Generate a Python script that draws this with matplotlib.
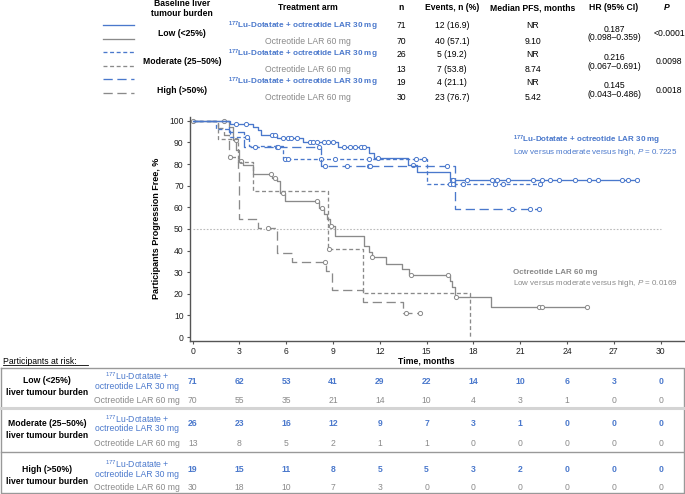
import matplotlib
matplotlib.use('Agg')
import matplotlib.pyplot as plt
import numpy as np
from matplotlib.transforms import blended_transform_factory
from matplotlib.lines import Line2D

plt.rcParams['font.family'] = ['Liberation Sans', 'DejaVu Sans']
plt.rcParams['mathtext.fontset'] = 'custom'
plt.rcParams['mathtext.rm'] = 'Liberation Sans'
plt.rcParams['mathtext.it'] = 'Liberation Sans:italic'
plt.rcParams['mathtext.bf'] = 'Liberation Sans:bold'

# ---------------- data ----------------
BLUE = '#4a78cc'
GREY = '#8a8a8a'

# Kaplan-Meier step data (time in months, % progression free)
low_lu_t = [0, 2.4, 3.9, 4.2, 4.4, 5.4, 7.1, 9.3, 11.3, 11.6, 13.8, 14.4, 16.5]
low_lu_s = [100, 98.6, 97.2, 95.8, 93.4, 92.1, 90.2, 87.9, 85.0, 82.9, 79.7, 76.3, 72.6]
low_lu_end = 28.5
low_lu_cens = [2.8, 3.4, 5.1, 5.3, 5.8, 6.1, 6.3, 6.7, 7.5, 7.7, 8.0, 8.4, 8.7, 9.0,
               9.7, 10.1, 10.4, 10.8, 11.0, 11.9, 14.1, 16.6, 16.7, 17.6, 19.2, 19.5,
               20.2, 21.8, 22.4, 22.9, 23.5, 24.5, 25.4, 26.0, 27.5, 27.9, 28.5]

mod_lu_t = [0, 1.5, 2.4, 3.6, 5.8, 15.0]
mod_lu_s = [100, 96.2, 92.3, 88.3, 82.4, 70.6]
mod_lu_end = 22.3
mod_lu_cens = [3.5, 5.9, 6.1, 8.2, 9.1, 11.3, 14.3, 14.8, 16.5, 16.7, 17.3, 19.4, 19.9, 22.3]

high_lu_t = [0, 2.35, 3.3, 8.2, 16.8]
high_lu_s = [100, 94.7, 88.0, 78.9, 59.0]
high_lu_end = 22.2
high_lu_cens = [4.0, 5.4, 5.5, 8.1, 8.5, 9.9, 11.3, 11.4, 16.3, 20.5, 21.6, 22.2]

low_oc_t = [0, 2.3, 2.6, 2.8, 3.0, 3.2, 3.9, 5.1, 5.4, 5.6, 5.9, 8.1, 8.4, 8.6, 8.8,
            9.1, 11.0, 11.3, 11.5, 12.4, 13.4, 13.9, 16.5, 16.6, 16.8, 19.1]
low_oc_s = [100, 97.2, 91.1, 86.5, 81.2, 79.4, 75.5, 73.5, 72.3, 66.7, 62.8, 59.8, 56.7,
            54.4, 51.4, 46.8, 42.2, 39.1, 36.9, 33.8, 31.5, 28.8, 26.0, 23.2, 18.7, 14.0]
low_oc_end = 25.3
low_oc_cens = [0.0, 2.0, 2.75, 3.1, 5.0, 5.3, 5.8, 8.0, 8.3, 8.85, 11.5, 14.0, 16.4,
               16.9, 22.2, 22.4, 25.3]

mod_oc_t = [0, 1.6, 2.9, 3.9, 8.65, 10.95, 17.8]
mod_oc_s = [100, 91.5, 81.0, 67.4, 40.7, 20.3, 0]
mod_oc_end = 17.8
mod_oc_cens = [8.75]

high_oc_t = [0, 1.6, 2.0, 2.35, 2.9, 3.0, 4.2, 5.43, 6.35, 8.55, 8.95, 10.9, 13.5]
high_oc_s = [100, 96.7, 93.3, 83.3, 76.7, 54.4, 50.6, 38.7, 34.9, 30.7, 21.6, 16.2, 10.9]
high_oc_end = 14.6
high_oc_cens = [2.4, 4.8, 8.5, 13.7, 14.6]

# summary table
burden_groups = ['Low (<25%)', 'Moderate (25–50%)', 'High (>50%)']
arm_lu = '$^{\\mathbf{177}}$Lu-Dotatate + octreotide LAR 30 mg'
arm_oc = 'Octreotide LAR 60 mg'
n_vals = ['71', '70', '26', '13', '19', '30']
events = ['12 (16.9)', '40 (57.1)', '5 (19.2)', '7 (53.8)', '4 (21.1)', '23 (76.7)']
median_pfs = ['NR', '9.10', 'NR', '8.74', 'NR', '5.42']
hr_vals = ['0.187', '0.216', '0.145']
hr_ci = ['(0.098–0.359)', '(0.067–0.691)', '(0.043–0.486)']
p_vals = ['<0.0001', '0.0098', '0.0018']

# at-risk table
risk_times = [0, 3, 6, 9, 12, 15, 18, 21, 24, 27, 30]
risk_low_lu = [71, 62, 53, 41, 29, 22, 14, 10, 6, 3, 0]
risk_low_oc = [70, 55, 35, 21, 14, 10, 4, 3, 1, 0, 0]
risk_mod_lu = [26, 23, 16, 12, 9, 7, 3, 1, 0, 0, 0]
risk_mod_oc = [13, 8, 5, 2, 1, 1, 0, 0, 0, 0, 0]
risk_high_lu = [19, 15, 11, 8, 5, 5, 3, 2, 0, 0, 0]
risk_high_oc = [30, 18, 10, 7, 3, 0, 0, 0, 0, 0, 0]

# ---------------- figure ----------------
W, H = 685, 494
fig = plt.figure(figsize=(W / 100, H / 100), dpi=100)
FS = 6.2
FSB = 5.85


def fx(x):
    return x / W


def fy(y):
    return 1 - y / H


def T(x, y, s, **kw):
    opts = dict(ha='center', va='center', fontsize=FS, color='black')
    opts.update(kw)
    return fig.text(fx(x), fy(y), s, **opts)


SOLID = '-'
SHORT = (0, (3.0, 2.0))
LONG = (0, (7.0, 3.5))
LW = 0.95

# ---- top summary table ----
T(182, 3.5, 'Baseline liver', fontweight='bold')
T(182, 13.5, 'tumour burden', fontweight='bold')
T(308, 7.5, 'Treatment arm', fontweight='bold')
T(401, 7.5, 'n', fontweight='bold')
T(452, 7.5, 'Events, n (%)', fontweight='bold')
T(533, 7.5, 'Median PFS, months', fontweight='bold')
T(614, 7.5, 'HR (95% CI)', fontweight='bold')
T(667, 7.5, 'P', fontweight='bold', fontstyle='italic')

row_y = [26, 41, 54.5, 69.3, 82.7, 97.3]
line_y = [25, 39.3, 52.3, 66, 79.3, 92.7]
styles = [SOLID, SOLID, SHORT, SHORT, LONG, LONG]
colors = [BLUE, GREY, BLUE, GREY, BLUE, GREY]
for i in range(6):
    fig.add_artist(Line2D([fx(103), fx(134)], [fy(line_y[i])] * 2, color=colors[i],
                          linestyle=styles[i], linewidth=LW))
    if i % 2 == 0:
        T(303, row_y[i], arm_lu, color=BLUE, fontweight='bold', fontsize=FSB)
    else:
        T(308, row_y[i], arm_oc, color=GREY)
    T(401, row_y[i], n_vals[i])
    T(452, row_y[i], events[i])
    T(533, row_y[i], median_pfs[i])
for g in range(3):
    yc = (row_y[2 * g] + row_y[2 * g + 1]) / 2
    T(182, yc, burden_groups[g], fontweight='bold')
    T(614, yc - 4.5, hr_vals[g])
    T(614, yc + 4.5, hr_ci[g])
    T(669, yc, p_vals[g])

# ---- KM axes ----
ax = fig.add_axes([fx(190), fy(340.7), fx(684) - fx(190), fy(116.7) - fy(340.7)])
ax.set_xlim(-0.17, 31.5)
ax.set_ylim(-1.7, 101.9)
for sp in ['top', 'right']:
    ax.spines[sp].set_visible(False)
for sp in ['left', 'bottom']:
    ax.spines[sp].set_color('#555555')
    ax.spines[sp].set_linewidth(1.0)
ax.set_xticks(risk_times)
ax.set_yticks(range(0, 101, 10))
ax.tick_params(length=2.5, width=0.8, color='#555555', labelsize=FS, pad=2,
               labelcolor='#222222')
ax.set_ylabel('Participants Progression Free, %', fontsize=FS + 0.3, fontweight='bold',
              labelpad=6)
ax.hlines(50, 0, 30, colors='#bbbbbb', linestyles=(0, (1.5, 1.5)), linewidth=0.8)


def km(t, s, end, cens, color, ls):
    tt = list(t) + [end]
    ss = list(s) + [s[-1]]
    ax.step(tt, ss, where='post', color=color, linestyle=ls, linewidth=LW)
    t_arr = np.array(t)
    s_arr = np.array(s)
    cy = [s_arr[np.searchsorted(t_arr, c, side='right') - 1] for c in cens]
    ax.plot(cens, cy, linestyle='none', marker='o', ms=3.0, mfc='white', mec=color,
            mew=0.7)


km(low_oc_t, low_oc_s, low_oc_end, low_oc_cens, GREY, SOLID)
km(mod_oc_t, mod_oc_s, mod_oc_end, mod_oc_cens, GREY, SHORT)
km(high_oc_t, high_oc_s, high_oc_end, high_oc_cens, GREY, LONG)
km(low_lu_t, low_lu_s, low_lu_end, low_lu_cens, BLUE, SOLID)
km(mod_lu_t, mod_lu_s, mod_lu_end, mod_lu_cens, BLUE, SHORT)
km(high_lu_t, high_lu_s, high_lu_end, high_lu_cens, BLUE, LONG)

T(426.7, 360.7, 'Time, months', fontweight='bold')

FA = 5.8
T(513, 140.5, arm_lu, ha='left', color=BLUE, fontweight='bold', fontsize=FA)
T(513, 152.5, 'Low versus moderate versus high, $P$ = 0.7225', ha='left', color=BLUE,
  fontsize=FA)
T(513, 272.5, arm_oc, ha='left', color=GREY, fontweight='bold', fontsize=FA)
T(513, 283.5, 'Low versus moderate versus high, $P$ = 0.0169', ha='left', color=GREY,
  fontsize=FA)

# ---- at-risk table ----
T(3, 361, 'Participants at risk:', ha='left')
fig.add_artist(Line2D([fx(3), fx(88)], [fy(365)] * 2, color='black', linewidth=0.6))
box_c = '#999999'
fig.add_artist(Line2D([fx(0.5), fx(684), fx(684), fx(0.5), fx(0.5)],
                      [fy(368), fy(368), fy(493), fy(493), fy(368)],
                      color=box_c, linewidth=1.0))
fig.add_artist(Line2D([fx(0.5), fx(684)], [fy(408)] * 2, color='#d4d4d4', linewidth=2.2))
fig.add_artist(Line2D([fx(0.5), fx(684)], [fy(451.7)] * 2, color=box_c, linewidth=1.0))

trans = blended_transform_factory(ax.transData, fig.transFigure)
blocks = [
    (risk_low_lu, risk_low_oc, 381, 400.5, 386.5, 'Low (<25%)'),
    (risk_mod_lu, risk_mod_oc, 423.3, 443, 429, 'Moderate (25–50%)'),
    (risk_high_lu, risk_high_oc, 469, 487, 475, 'High (>50%)'),
]
for lu, oc, y_lu, y_oc, y_grp, name in blocks:
    T(47, y_grp - 6, name, fontweight='bold')
    T(47, y_grp + 6, 'liver tumour burden', fontweight='bold')
    T(137, y_lu - 4.5, '$^{177}$Lu-Dotatate +', color=BLUE)
    T(137, y_lu + 5.5, 'octreotide LAR 30 mg', color=BLUE)
    T(137, y_oc, arm_oc, color=GREY)
    for tm, a, b in zip(risk_times, lu, oc):
        fig.text(tm, fy(y_lu), str(a), transform=trans, ha='center', va='center',
                 fontsize=FS, color=BLUE, fontweight='bold')
        fig.text(tm, fy(y_oc), str(b), transform=trans, ha='center', va='center',
                 fontsize=FS, color=GREY)

fig.savefig('out.png', dpi=100)
